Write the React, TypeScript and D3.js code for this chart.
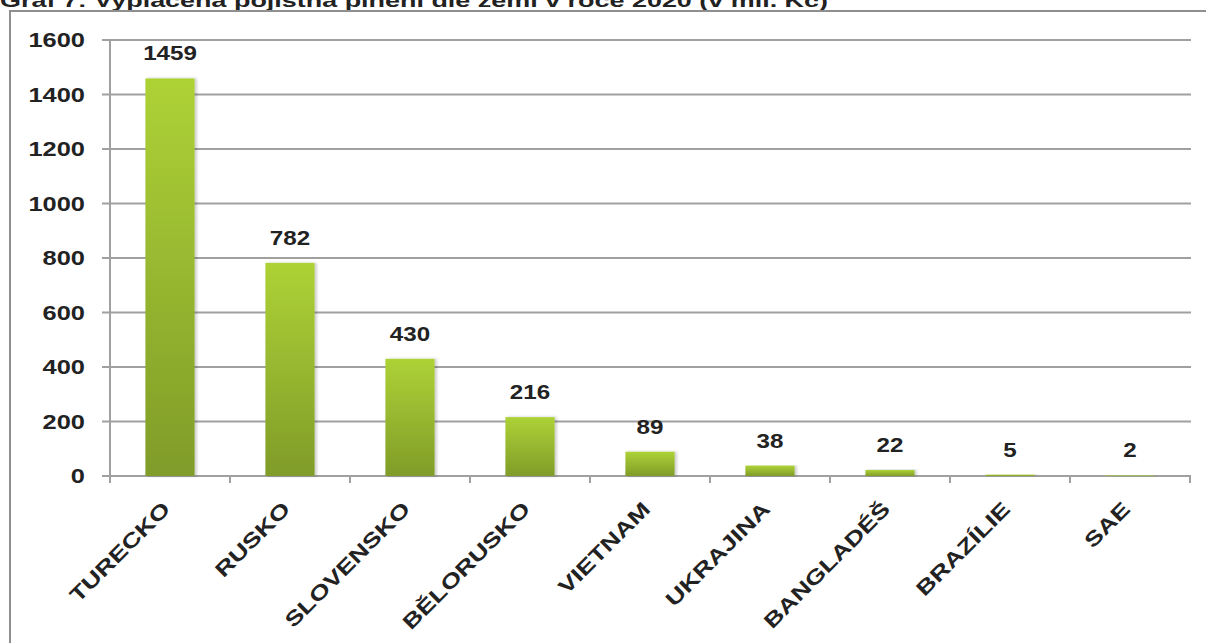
import { useEffect, useRef } from "react";
import * as d3 from "d3";

const COUNTRIES = [
  "TURECKO",
  "RUSKO",
  "SLOVENSKO",
  "BĚLORUSKO",
  "VIETNAM",
  "UKRAJINA",
  "BANGLADÉŠ",
  "BRAZÍLIE",
  "SAE",
];
const PAYOUTS = [1459, 782, 430, 216, 89, 38, 22, 5, 2];
const Y_TICKS = [0, 200, 400, 600, 800, 1000, 1200, 1400, 1600];
const TITLE = "Graf 7: Vyplacená pojistná plnění dle zemí v roce 2020 (v mil. Kč)";

const WIDTH = 1206;
const HEIGHT = 643;
const FONT = "'Liberation Sans', Arial, sans-serif";
const INK = "#222222";
const GRID = "#a0a0a0";
const STRETCH = 1.27;

export default function App() {
  const svgRef = useRef<SVGSVGElement | null>(null);

  useEffect(() => {
    const svgElement = svgRef.current;
    if (!svgElement) return;

    const plot = { left: 110, right: 1190, top: 40, bottom: 476 };

    const x = d3
      .scaleBand<string>()
      .domain(COUNTRIES)
      .range([plot.left, plot.right])
      .paddingInner(0.59)
      .paddingOuter(0.295);
    const y = d3.scaleLinear().domain([0, 1600]).range([plot.bottom, plot.top]);

    const svg = d3.select(svgElement);
    svg.selectAll("*").remove();

    const defs = svg.append("defs");
    const gradient = defs
      .append("linearGradient")
      .attr("id", "barFill")
      .attr("x1", 0)
      .attr("y1", 0)
      .attr("x2", 0)
      .attr("y2", 1);
    gradient.append("stop").attr("offset", "0%").attr("stop-color", "#add236");
    gradient.append("stop").attr("offset", "100%").attr("stop-color", "#809c29");

    const shadow = defs
      .append("filter")
      .attr("id", "barShadow")
      .attr("x", "-20%")
      .attr("y", "-5%")
      .attr("width", "150%")
      .attr("height", "110%");
    shadow
      .append("feDropShadow")
      .attr("dx", 2)
      .attr("dy", 0)
      .attr("stdDeviation", 1.6)
      .attr("flood-color", "#000")
      .attr("flood-opacity", 0.22);

    svg.append("rect").attr("width", WIDTH).attr("height", HEIGHT).attr("fill", "#fff");

    // title, clipped by the top of the picture
    svg
      .append("text")
      .attr("x", 0)
      .attr("y", 7)
      .attr("font-family", FONT)
      .attr("font-weight", 700)
      .attr("font-size", 19)
      .attr("fill", INK)
      .attr("textLength", 828)
      .attr("lengthAdjust", "spacingAndGlyphs")
      .text(TITLE);

    // outer frame
    svg
      .append("rect")
      .attr("x", 10)
      .attr("y", 11)
      .attr("width", WIDTH)
      .attr("height", HEIGHT)
      .attr("fill", "none")
      .attr("stroke", "#8f8f8f")
      .attr("stroke-width", 2);

    // gridlines with left tick stubs
    svg
      .append("g")
      .selectAll("line")
      .data(Y_TICKS)
      .join("line")
      .attr("x1", plot.left - 8)
      .attr("x2", plot.right + 1)
      .attr("y1", (d) => y(d))
      .attr("y2", (d) => y(d))
      .attr("stroke", GRID)
      .attr("stroke-width", 2);

    svg
      .append("line")
      .attr("x1", plot.left)
      .attr("x2", plot.left)
      .attr("y1", y(1600))
      .attr("y2", y(0) + 7)
      .attr("stroke", GRID)
      .attr("stroke-width", 2);

    // category boundary ticks
    const boundaries = COUNTRIES.map((c) => (x(c) ?? 0) - x.step() * x.paddingOuter()).concat([
      plot.right,
    ]);
    svg
      .append("g")
      .selectAll("line")
      .data(boundaries)
      .join("line")
      .attr("x1", (d) => d)
      .attr("x2", (d) => d)
      .attr("y1", y(0))
      .attr("y2", y(0) + 7)
      .attr("stroke", GRID)
      .attr("stroke-width", 2);

    // y tick labels
    svg
      .append("g")
      .selectAll("text")
      .data(Y_TICKS)
      .join("text")
      .attr("transform", (d) => `translate(85, ${y(d)}) scale(${STRETCH}, 1)`)
      .attr("dy", "0.36em")
      .attr("text-anchor", "end")
      .attr("font-family", FONT)
      .attr("font-weight", 700)
      .attr("font-size", 20)
      .attr("fill", INK)
      .text((d) => `${d}`);

    const data = COUNTRIES.map((country, i) => ({ country, value: PAYOUTS[i] }));

    svg
      .append("g")
      .selectAll("rect")
      .data(data)
      .join("rect")
      .attr("x", (d) => x(d.country) ?? 0)
      .attr("y", (d) => y(d.value))
      .attr("width", x.bandwidth())
      .attr("height", (d) => Math.max(0.6, y(0) - y(d.value)))
      .attr("fill", "url(#barFill)")
      .attr("filter", "url(#barShadow)");

    // value labels
    svg
      .append("g")
      .selectAll("text")
      .data(data)
      .join("text")
      .attr(
        "transform",
        (d) => `translate(${(x(d.country) ?? 0) + x.bandwidth() / 2}, ${y(d.value) - 18}) scale(1.15, 1)`
      )
      .attr("text-anchor", "middle")
      .attr("font-family", FONT)
      .attr("font-weight", 700)
      .attr("font-size", 21)
      .attr("fill", INK)
      .text((d) => `${d.value}`);

    // rotated category labels
    svg
      .append("g")
      .selectAll("text")
      .data(COUNTRIES)
      .join("text")
      .attr(
        "transform",
        (c) =>
          `translate(${(x(c) ?? 0) + x.bandwidth() / 2 - 9}, 500) rotate(-45) scale(1.3, 1)`
      )
      .attr("dy", "0.72em")
      .attr("text-anchor", "end")
      .attr("font-family", FONT)
      .attr("font-weight", 700)
      .attr("font-size", 20.5)
      .attr("fill", INK)
      .text((c) => c);
  }, []);

  return (
    <div style={{ position: "absolute", left: 0, top: 0 }}>
      <svg ref={svgRef} width={WIDTH} height={HEIGHT} style={{ display: "block" }} />
    </div>
  );
}
